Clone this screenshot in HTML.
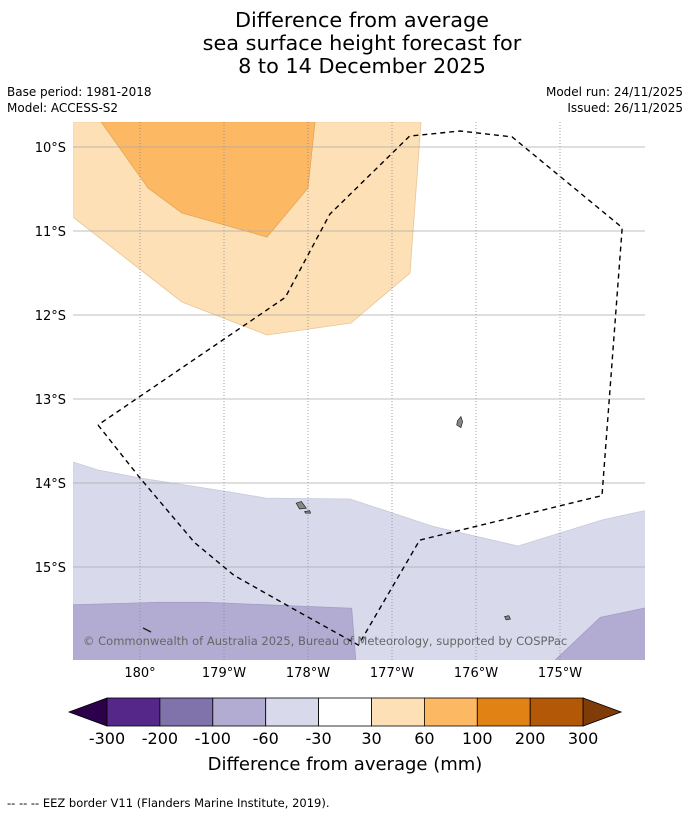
<!DOCTYPE html>
<html><head><meta charset="utf-8"><style>
body{margin:0;background:#fff;width:690px;height:816px;overflow:hidden;font-family:"DejaVu Sans","Liberation Sans",sans-serif}
svg{display:block}
</style></head><body>
<svg id="s" width="690" height="816" xmlns="http://www.w3.org/2000/svg">
<g font-size="20.8" text-anchor="middle" fill="#000">
<text x="362" y="27">Difference from average</text>
<text x="362" y="50">sea surface height forecast for</text>
<text x="362" y="73">8 to 14 December 2025</text>
</g>
<g font-size="12" fill="#000">
<text x="7" y="96">Base period: 1981-2018</text>
<text x="7" y="112">Model: ACCESS-S2</text>
<text x="683" y="96" text-anchor="end">Model run: 24/11/2025</text>
<text x="683" y="112" text-anchor="end">Issued: 26/11/2025</text>
</g>
<defs><clipPath id="mc"><rect x="73" y="122" width="572" height="538"/></clipPath></defs>
<g id="map" clip-path="url(#mc)"><rect x="73" y="122" width="572" height="538" fill="#fff"/></g>
<g id="axes"></g>
<g id="cbar"></g>
<text x="345" y="770" font-size="18" text-anchor="middle">Difference from average (mm)</text>
<text x="7" y="807" font-size="11.5">--  --  -- EEZ border V11 (Flanders Marine Institute, 2019).</text>
</svg>
<script>
const levels=[-300,-200,-100,-60,-30,30,60,100,200,300];
const colors=["#542788","#8073ac","#b2abd2","#d8daeb","#ffffff","#fee0b6","#fdb863","#e08214","#b35806"];
const lowColor="#2d004b", highColor="#7f3b08";
const lonTicks=[180,181,182,183,184,185];
const lonLabels=["180°","179°W","178°W","177°W","176°W","175°W"];
const latTicks=[10,11,12,13,14,15];
const latLabels=["10°S","11°S","12°S","13°S","14°S","15°S"];
const regionLight=[[179.2,9.7],[179.2,10.833],[180.5,11.845],[181.512,12.238],[182.512,12.095],[183.214,11.5],[183.345,9.7]];
const regionOrange=[[179.536,9.7],[180.095,10.488],[180.5,10.786],[181.512,11.071],[182,10.488],[182.083,9.7]];
const regionPaleBlue=[[179.2,13.75],[179.5,13.845],[180,13.94],[181.07,14.107],[181.5,14.18],[182.5,14.19],[183.5,14.52],[184.5,14.75],[185.5,14.44],[186.05,14.32],[186.05,16.5],[179.2,16.5]];
const regionBlueA=[[179.2,15.45],[180.24,15.42],[180.77,15.42],[181.5,15.45],[182.52,15.49],[182.6,16.5],[179.2,16.5]];
const regionBlueB=[[184.94,16.11],[185.48,15.6],[186.05,15.48],[186.05,16.5],[184.9,16.5]];
const eez=[[179.5,13.31],[180,13.94],[180.65,14.71],[181.12,15.1],[181.9,15.54],[182.6,15.93],[183.33,14.68],[185.5,14.15],[185.74,10.96],[184.43,9.88],[183.81,9.81],[183.21,9.87],[182.26,10.8],[181.73,11.79],[179.5,13.31]];
const islands=[[[183.78,13.26],[183.82,13.21],[183.84,13.27],[183.82,13.34],[183.77,13.31]],[[181.86,14.24],[181.92,14.22],[181.98,14.3],[181.9,14.31]],[[181.96,14.34],[182.02,14.33],[182.03,14.36],[181.97,14.36]],[[184.34,15.59],[184.39,15.58],[184.41,15.62],[184.36,15.63]]];
const X=lon=>140+(lon-180)*84, Y=lat=>147+(lat-10)*84;
const NS="http://www.w3.org/2000/svg";
function mk(t,a,p){const e=document.createElementNS(NS,t);for(const k in a)e.setAttribute(k,a[k]);p.appendChild(e);return e;}
const pts=arr=>arr.map(p=>X(p[0]).toFixed(1)+","+Y(p[1]).toFixed(1)).join(" ");
const map=document.getElementById("map");
function region(arr,fill,stroke,name){const e=mk("polygon",{points:pts(arr),fill:fill,stroke:stroke,"stroke-width":0.8},map);

}
region(regionLight,colors[5],"#e8c597","region-30-60");
region(regionOrange,colors[6],"#e6a458","region-60-100");
region(regionPaleBlue,colors[3],"#c8c9dc","region-minus60-minus30");
region(regionBlueA,colors[2],"#a39cc6","region-minus100-minus60-west");
region(regionBlueB,colors[2],"#a39cc6","region-minus100-minus60-east");
lonTicks.forEach(l=>{const e=mk("line",{x1:X(l),x2:X(l),y1:122,y2:660,stroke:"#8888a0","stroke-width":0.8,"stroke-dasharray":"1,2"},map);

});
latTicks.forEach(l=>{const e=mk("line",{x1:73,x2:645,y1:Y(l),y2:Y(l),stroke:"#aaa","stroke-width":0.8},map);

});
islands.forEach(i=>{const e=mk("polygon",{points:pts(i),fill:"#888",stroke:"#222","stroke-width":0.7},map);

});
let d=mk("line",{x1:143,y1:628,x2:151,y2:632,stroke:"#222","stroke-width":1.5},map);


let b=mk("polyline",{points:pts(eez),fill:"none",stroke:"#000","stroke-width":1.4,"stroke-dasharray":"5,4"},map);


let c=mk("text",{x:83,y:645,"font-size":11.5,fill:"#666"},map);c.textContent="© Commonwealth of Australia 2025, Bureau of Meteorology, supported by COSPPac";


const ax=document.getElementById("axes");
lonTicks.forEach((l,i)=>{const t=mk("text",{x:X(l),y:677,"font-size":13,"text-anchor":"middle"},ax);t.textContent=lonLabels[i];

});
latTicks.forEach((l,i)=>{const t=mk("text",{x:66,y:Y(l)+5,"font-size":13,"text-anchor":"end"},ax);t.textContent=latLabels[i];

});
const cb=document.getElementById("cbar");
const cx0=107,cw=52.9,cy=698,ch=28;
let lt=mk("polygon",{points:`${cx0},${cy} ${cx0-38},${cy+ch/2} ${cx0},${cy+ch}`,fill:lowColor,stroke:"#000","stroke-width":0.8},cb);


colors.forEach((col,i)=>{const r=mk("rect",{x:cx0+i*cw,y:cy,width:cw,height:ch,fill:col,stroke:"#000","stroke-width":0.8},cb);

});
const xe=cx0+colors.length*cw;
let ht=mk("polygon",{points:`${xe},${cy} ${xe+38},${cy+ch/2} ${xe},${cy+ch}`,fill:highColor,stroke:"#000","stroke-width":0.8},cb);


levels.forEach((v,i)=>{const t=mk("text",{x:cx0+i*cw,y:744,"font-size":16,"text-anchor":"middle"},cb);t.textContent=v;

});
</script>
</body></html>
